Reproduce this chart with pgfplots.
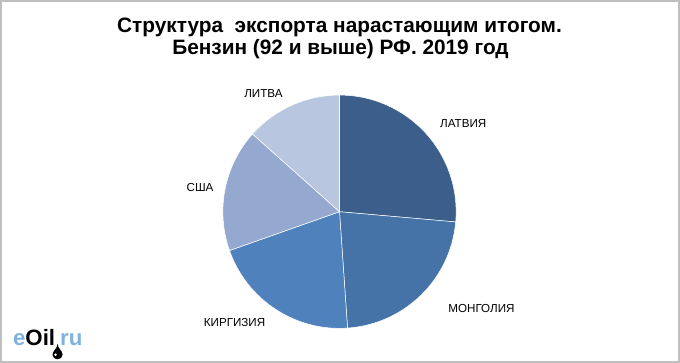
\documentclass[border=0pt]{standalone}
\usepackage{pgfplots}
\pgfplotsset{compat=1.18}
\usepackage{pgfplotstable}
\usepackage{fontspec}
\setmainfont{Liberation Sans}
\definecolor{cLat}{HTML}{3B5E8A}
\definecolor{cMon}{HTML}{4572A7}
\definecolor{cKir}{HTML}{4F81BD}
\definecolor{cUsa}{HTML}{95A9D0}
\definecolor{cLit}{HTML}{B9C6E0}
\definecolor{frame}{HTML}{BFBFBF}
\definecolor{logoblue}{HTML}{7FB2E0}

\pgfplotstableread[col sep=comma]{
name,value
ЛАТВИЯ,26.4
МОНГОЛИЯ,22.5
КИРГИЗИЯ,20.7
США,17.0
ЛИТВА,13.4
}\piedata

\pgfplotstablegetelem{0}{value}\of\piedata \let\vA\pgfplotsretval
\pgfplotstablegetelem{1}{value}\of\piedata \let\vB\pgfplotsretval
\pgfplotstablegetelem{2}{value}\of\piedata \let\vC\pgfplotsretval
\pgfplotstablegetelem{3}{value}\of\piedata \let\vD\pgfplotsretval
\pgfplotstablegetelem{4}{value}\of\piedata \let\vE\pgfplotsretval
\pgfmathsetmacro{\aA}{90}
\pgfmathsetmacro{\aB}{\aA-3.6*\vA}
\pgfmathsetmacro{\aC}{\aB-3.6*\vB}
\pgfmathsetmacro{\aD}{\aC-3.6*\vC}
\pgfmathsetmacro{\aE}{\aD-3.6*\vD}
\pgfmathsetmacro{\aF}{\aE-3.6*\vE}

\begin{document}
\begin{tikzpicture}
\begin{axis}[
  x=1bp, y=1bp,
  xmin=0, xmax=680, ymin=0, ymax=367,
  hide axis, clip=false,
]
% frame
\draw[frame, line width=1.5bp] (axis cs:4,7) rectangle (axis cs:673,363);
% title
\node[font=\bfseries\fontsize{20.6}{22}\selectfont, anchor=base, inner sep=0pt] at (axis cs:338,332)
  {Структура\ \ экспорта нарастающим итогом.};
\node[font=\bfseries\fontsize{20.6}{22}\selectfont, anchor=base, inner sep=0pt] at (axis cs:339,310)
  {Бензин (92 и выше) РФ. 2019 год};
% pie
\fill[cLat, draw=white, line width=0.5bp] (axis cs:338,155) -- ++(\aA:115bp) arc[start angle=\aA, end angle=\aB, radius=115bp] -- cycle;
\fill[cMon, draw=white, line width=0.5bp] (axis cs:338,155) -- ++(\aB:115bp) arc[start angle=\aB, end angle=\aC, radius=115bp] -- cycle;
\fill[cKir, draw=white, line width=0.5bp] (axis cs:338,155) -- ++(\aC:115bp) arc[start angle=\aC, end angle=\aD, radius=115bp] -- cycle;
\fill[cUsa, draw=white, line width=0.5bp] (axis cs:338,155) -- ++(\aD:115bp) arc[start angle=\aD, end angle=\aE, radius=115bp] -- cycle;
\fill[cLit, draw=white, line width=0.5bp] (axis cs:338,155) -- ++(\aE:115bp) arc[start angle=\aE, end angle=\aF, radius=115bp] -- cycle;
% labels
\begin{scope}[every node/.style={font=\fontsize{11.5}{13}\selectfont, inner sep=0pt}]
\node at (axis cs:460,242) {ЛАТВИЯ};
\node at (axis cs:478,60) {МОНГОЛИЯ};
\node at (axis cs:234.5,45.5) {КИРГИЗИЯ};
\node at (axis cs:200.5,179) {США};
\node at (axis cs:263,271.5) {ЛИТВА};
\end{scope}
% logo
\node[anchor=base west, inner sep=0pt, font=\bfseries\fontsize{22}{24}\selectfont] at (axis cs:16,23)
  {\textcolor{logoblue}{e}\textcolor{black}{Oil}\hspace{5bp}\textcolor{logoblue}{ru}};
\fill[black] (axis cs:60,25) .. controls (axis cs:60,20) and (axis cs:55,18) .. (axis cs:55,14)
  .. controls (axis cs:55,8) and (axis cs:65,8) .. (axis cs:65,14)
  .. controls (axis cs:65,18) and (axis cs:60,20) .. (axis cs:60,25) -- cycle;
\fill[white] (axis cs:58,14) circle[radius=1.3bp];
\end{axis}
\end{tikzpicture}
\end{document}
